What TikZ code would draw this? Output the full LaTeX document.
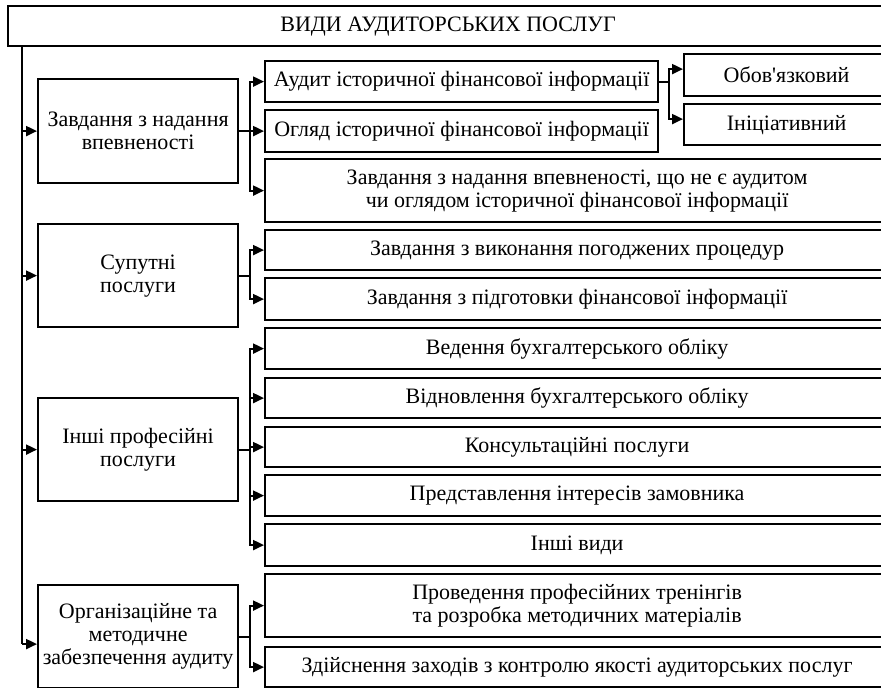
\documentclass[tikz,border=0pt]{standalone}
\usepackage{fontspec}
\newfontfamily\diagfont{Liberation Serif}
\usetikzlibrary{arrows.meta}
\tikzset{
  box/.style={draw, line width=2.2pt, inner sep=0pt, align=center, anchor=north west},
  conn/.style={line width=2.2pt},
  arr/.style={line width=2.2pt, -{Triangle[length=11pt,width=10pt]}},
}
\begin{document}
\begin{tikzpicture}[x=1pt, y=-1pt, font=\diagfont\fontsize{22}{23}\selectfont]
\useasboundingbox (0,0) rectangle (881,688);
% top
\node[box, minimum width=880, minimum height=40] (top) at (7,5) {ВИДИ АУДИТОРСЬКИХ ПОСЛУГ};
% left column
\node[box, minimum width=200, minimum height=104] (l1) at (37,78) {Завдання з надання\\впевненості};
\node[box, minimum width=200, minimum height=103] (l2) at (37,223) {Супутні\\послуги};
\node[box, minimum width=200, minimum height=103] (l3) at (37,397) {Інші професійні\\послуги};
\node[box, minimum width=200, minimum height=103] (l4) at (37,584) {Організаційне та\\методичне\\забезпечення аудиту};
% middle column
\node[box, minimum width=393, minimum height=41] (m1) at (264,60) {Аудит історичної фінансової інформації};
\node[box, minimum width=393, minimum height=42] (m2) at (264,109) {Огляд історичної фінансової інформації};
\node[box, minimum width=624, minimum height=63] (m3) at (264,158) {Завдання з надання впевненості, що не є аудитом\\чи оглядом історичної фінансової інформації};
\node[box, minimum width=624, minimum height=40] (m4) at (264,229) {Завдання з виконання погоджених процедур};
\node[box, minimum width=624, minimum height=42] (m5) at (264,277) {Завдання з підготовки фінансової інформації};
\node[box, minimum width=624, minimum height=41] (m6) at (264,327) {Ведення бухгалтерського обліку};
\node[box, minimum width=624, minimum height=40] (m7) at (264,377) {Відновлення бухгалтерського обліку};
\node[box, minimum width=624, minimum height=40] (m8) at (264,426) {Консультаційні послуги};
\node[box, minimum width=624, minimum height=41] (m9) at (264,474) {Представлення інтересів замовника};
\node[box, minimum width=624, minimum height=42] (m10) at (264,523) {Інші види};
\node[box, minimum width=624, minimum height=63] (m11) at (264,573) {Проведення професійних тренінгів\\та розробка методичних матеріалів};
\node[box, minimum width=624, minimum height=40] (m12) at (264,646) {Здійснення заходів з контролю якості аудиторських послуг};
% right column
\node[box, minimum width=205, minimum height=42] (r1) at (683,53) {Обов'язковий};
\node[box, minimum width=205, minimum height=41] (r2) at (683,103) {Ініціативний};
% trunk
\coordinate (trunk) at (22,45);
\coordinate (l4in) at ([yshift=-7.5pt]l4.west);
\coordinate (r1in) at ([yshift=6pt]r1.west);
\coordinate (r2in) at ([yshift=5.5pt]r2.west);
\draw[conn] (trunk) -- (trunk |- l4in);
\draw[arr] (trunk |- l1.west) -- (l1.west);
\draw[arr] (trunk |- l2.west) -- (l2.west);
\draw[arr] (trunk |- l3.west) -- (l3.west);
\draw[arr] (trunk |- l4in) -- (l4in);
% branches
\foreach \m in {m1,m2,m3} \draw[arr] (l1.east) -- ++(11,0) |- (\m.west);
\foreach \m in {m4,m5} \draw[arr] (l2.east) -- ++(11,0) |- (\m.west);
\foreach \m in {m6,m7,m8,m9,m10} \draw[arr] (l3.east) -- ++(11,0) |- (\m.west);
\foreach \m in {m11,m12} \draw[arr] (l4.east) -- ++(11,0) |- (\m.west);
\draw[arr] (m1.east) -- ++(10,0) |- (r1in);
\draw[arr] (m1.east) -- ++(10,0) |- (r2in);
\end{tikzpicture}
\end{document}
